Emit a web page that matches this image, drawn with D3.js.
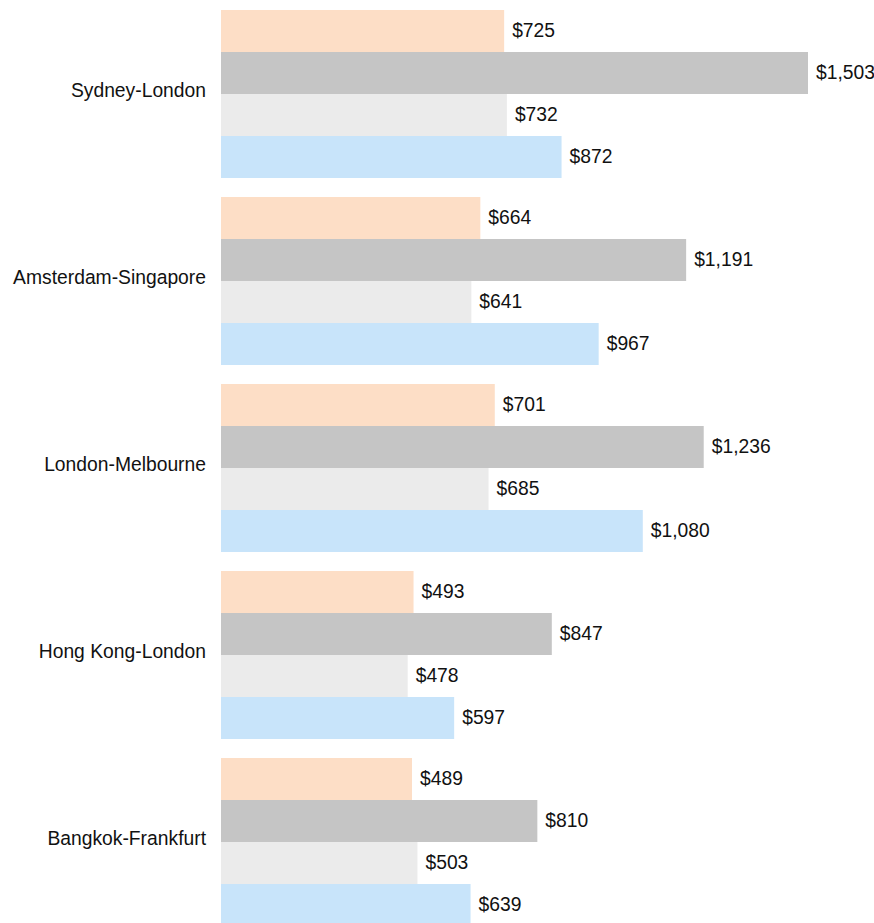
<!DOCTYPE html>
<html>
<head>
<meta charset="utf-8">
<script src="https://cdn.jsdelivr.net/npm/d3@7/dist/d3.min.js"></script>
<style>
  html, body { margin: 0; padding: 0; background: #ffffff; }
  svg { display: block; }
  text { font-family: "Liberation Sans", Arial, Helvetica, sans-serif; fill: #111111; }
</style>
</head>
<body>
<svg id="chart" width="874" height="923"></svg>
<script>
const categories = ["Sydney-London", "Amsterdam-Singapore", "London-Melbourne", "Hong Kong-London", "Bangkok-Frankfurt"];
const seriesNames = ["Series 1", "Series 2", "Series 3", "Series 4"];
const series1 = [725, 664, 701, 493, 489];
const series2 = [1503, 1191, 1236, 847, 810];
const series3 = [732, 641, 685, 478, 503];
const series4 = [872, 967, 1080, 597, 639];
const seriesColors = ["#fddec6", "#c5c5c5", "#ebebeb", "#c8e4fa"];

const allSeries = [series1, series2, series3, series4];
const data = categories.map((c, i) => ({
  category: c,
  values: seriesNames.map((s, j) => ({ key: s, idx: j, value: allSeries[j][i] }))
}));

const svg = d3.select("#chart");
const x0 = 221;
const x = d3.scaleLinear().domain([0, 1503]).range([x0, 808]);

const step = 187, gap = 19;
const y = d3.scaleBand()
  .domain(categories)
  .range([10, 10 + step * categories.length - gap])
  .paddingInner(gap / step)
  .paddingOuter(0);
const y1 = d3.scaleBand().domain(seriesNames).range([0, y.bandwidth()]).padding(0);

const fmt = v => "$" + d3.format(",")(v);
const fs = "19.3px";

const groups = svg.selectAll("g.group")
  .data(data)
  .join("g")
  .attr("class", "group")
  .attr("transform", d => `translate(0,${y(d.category)})`);

groups.selectAll("rect")
  .data(d => d.values)
  .join("rect")
  .attr("x", x0)
  .attr("y", d => y1(d.key))
  .attr("width", d => x(d.value) - x0)
  .attr("height", y1.bandwidth())
  .attr("fill", d => seriesColors[d.idx]);

groups.selectAll("text.val")
  .data(d => d.values)
  .join("text")
  .attr("class", "val")
  .attr("x", d => x(d.value) + 8)
  .attr("y", d => y1(d.key) + y1.bandwidth() / 2 + 6)
  .attr("font-size", fs)
  .text(d => fmt(d.value));

groups.append("text")
  .attr("class", "cat")
  .attr("x", 206)
  .attr("y", y.bandwidth() / 2 + 3)
  .attr("text-anchor", "end")
  .attr("font-size", fs)
  .text(d => d.category);
</script>
</body>
</html>
